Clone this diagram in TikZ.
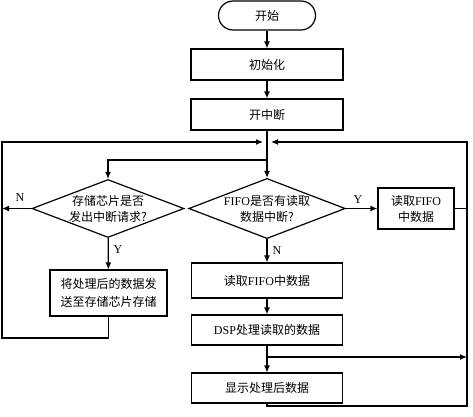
\documentclass[tikz,border=0pt]{standalone}
\usepackage{fontspec}
\setmainfont{Liberation Serif}
\newfontfamily\cjk{Noto Sans CJK SC}
\usetikzlibrary{arrows.meta,shapes.geometric}
\begin{document}
\begin{tikzpicture}[x=1pt,y=-1pt,
 box/.style={draw,line width=1.2pt,rectangle,inner sep=0pt,align=center,font=\fontsize{12}{16}\selectfont},
 dia/.style={draw,line width=1.2pt,diamond,aspect=2.6,inner sep=0pt,align=center,font=\fontsize{12}{16}\selectfont},
 flow/.style={line width=1.2pt,-{Latex[length=7pt,width=6pt]}},
 plain/.style={line width=1.2pt},
 lab/.style={font=\fontsize{12}{14}\selectfont,inner sep=0pt}]
\useasboundingbox (0,0) rectangle (473,416);
% nodes
\node[box,minimum width=97pt,minimum height=29pt,rounded corners=14.5pt] (start) at (267,15.5) {\cjk 开始};
\node[box,minimum width=152pt,minimum height=31pt] (init) at (267,64.5) {\cjk 初始化};
\node[box,minimum width=152pt,minimum height=31pt] (intr) at (267,114.5) {\cjk 开中断};
\node[dia,minimum width=152pt,minimum height=58pt] (d1) at (108,208.5) {\cjk 存储芯片是否\\\cjk 发出中断请求?};
\node[dia,minimum width=153pt,minimum height=60pt] (d2) at (267,208.5) {FIFO{\cjk 是否有读取}\\\cjk 数据中断?};
\node[box,minimum width=76pt,minimum height=41pt] (rd1) at (416,208.5) {\cjk 读取\normalfont FIFO\\\cjk 中数据};
\node[box,minimum width=117pt,minimum height=46pt,font=\fontsize{12}{18}\selectfont] (store) at (108.5,293) {\cjk 将处理后的数据发\\\cjk 送至存储芯片存储};
\node[box,minimum width=151pt,minimum height=35pt] (rd2) at (267,280.5) {{\cjk 读取}FIFO{\cjk 中数据}};
\node[box,minimum width=151pt,minimum height=30pt] (dsp) at (267,330) {DSP{\cjk 处理读取的数据}};
\node[box,minimum width=151pt,minimum height=30pt] (disp) at (267,388) {\cjk 显示处理后数据};
% labels
\node[lab] (ly2) at (358,200) {Y};
\node[lab] (ln2) at (277,251) {N};
\node[lab] (ly1) at (118,250) {Y};
\node[lab] (ln1) at (20,198) {N};
% coordinates
\coordinate (jl) at (263,142);
\coordinate (jr) at (271,142);
\coordinate (rt) at (467,142);
\coordinate (rb) at (467,406);
\coordinate (b1) at (267,160);
\coordinate (b2) at (267,357);
\coordinate (r2) at (467,357);
\coordinate (lb) at (2,338);
\coordinate (lt) at (2,142);
\coordinate (ln) at (2,208.5);
% connectors
\draw[flow] (start) -- (init);
\draw[flow] (init) -- (intr);
\draw[flow] (intr) -- (d2);
\draw[flow] (b1) -| (d1.north);
\draw[flow] (d1.west) -- (ln);
\draw[flow] (d1) -- (store);
\draw[flow] (d2) -- (rd1);
\draw[flow] (d2) -- (rd2);
\draw[flow] (rd2) -- (dsp);
\draw[flow] (dsp) -- (disp);
\draw[flow] (b2) -- (r2);
\draw[plain] (rd1.east) -- (rd1.east -| rt);
\draw[flow] (store.south) |- (lb) -- (lt) -- (jl);
\draw[flow] (disp.south) |- (rb) -- (rt) -- (jr);
\end{tikzpicture}
\end{document}
